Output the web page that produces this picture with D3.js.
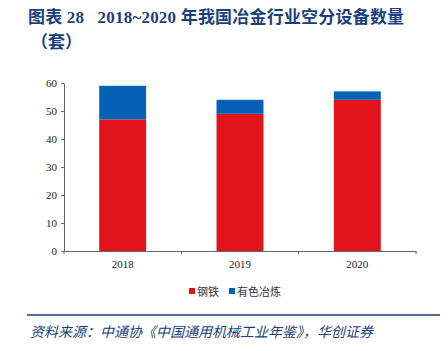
<!DOCTYPE html>
<html>
<head>
<meta charset="utf-8">
<script src="https://cdn.jsdelivr.net/npm/d3@7"></script>
<style>
  body { margin: 0; background: #fff; }
  svg { display: block; }
</style>
</head>
<body>
<svg id="chart" width="448" height="351"></svg>
<script>
// chart data
const years = ['2018', '2019', '2020'];
const steel = [47, 49, 54];       // 钢铁
const nonFerrous = [12, 5, 3];    // 有色冶炼
const seriesNames = ['钢铁', '有色冶炼'];
const yTicks = [0, 10, 20, 30, 40, 50, 60];

const colors = ['#e3131c', '#0461b6'];
const navy = '#1c3f7c';

const svg = d3.select('#chart');
const margin = { top: 83, left: 64, right: 32, bottom: 100 };
const width = 448 - margin.left - margin.right;
const height = 351 - margin.top - margin.bottom;

// title
svg.append('text')
    .attr('x', 28)
    .attr('y', 23)
    .attr('fill', navy)
    .style('font-family', '"Liberation Serif", "Noto Sans CJK SC", serif')
    .style('font-weight', 'bold')
    .style('font-size', '17px')
    .style('letter-spacing', '0.2px')
    .text('图表 28\u00a0\u00a0\u00a02018~2020 年我国冶金行业空分设备数量');
svg.append('text')
    .attr('x', 31)
    .attr('y', 48)
    .attr('fill', navy)
    .style('font-family', '"Noto Sans CJK SC", serif')
    .style('font-weight', 'bold')
    .style('font-size', '17px')
    .text('（套）');

const chart = svg.append('g')
    .attr('transform', `translate(${margin.left},${margin.top})`);

const x = d3.scaleBand().domain(years).range([0, width]).paddingInner(0.6).paddingOuter(0.3);
const y = d3.scaleLinear().domain([0, 60]).range([height, 0]);

// stack the two series
const rows = years.map((yr, i) => ({ year: yr, '钢铁': steel[i], '有色冶炼': nonFerrous[i] }));
const stacked = d3.stack().keys(seriesNames)(rows);

chart.selectAll('.layer')
    .data(stacked)
    .enter()
    .append('g')
    .attr('fill', (d, i) => colors[i])
    .selectAll('rect')
    .data(d => d)
    .enter()
    .append('rect')
    .attr('x', d => x(d.data.year))
    .attr('y', d => y(d[1]))
    .attr('width', x.bandwidth())
    .attr('height', d => y(d[0]) - y(d[1]));

// y axis
const yAxisG = chart.append('g')
    .call(d3.axisLeft(y).tickValues(yTicks).tickSize(3).tickSizeOuter(0).tickPadding(4));

// x axis with ticks at category boundaries
const xAxisG = chart.append('g')
    .attr('transform', `translate(0,${height})`)
    .call(d3.axisBottom(x).tickSize(0).tickPadding(9));
const step = x.step();
xAxisG.selectAll('.edge')
    .data(d3.range(years.length + 1))
    .enter()
    .append('line')
    .attr('x1', i => i * step)
    .attr('x2', i => i * step)
    .attr('y1', 0)
    .attr('y2', 3)
    .attr('stroke', '#666');

[yAxisG, xAxisG].forEach(g => {
    g.selectAll('.domain, line').attr('stroke', '#666');
    g.selectAll('.tick text')
        .attr('fill', '#222')
        .style('font-family', '"Liberation Serif", serif')
        .style('font-size', '11px');
});

// legend
const legend = svg.append('g').attr('transform', 'translate(189,284)');
const legendX = [0, 40];
seriesNames.forEach((name, i) => {
    legend.append('rect')
        .attr('x', legendX[i])
        .attr('y', 4)
        .attr('width', 6)
        .attr('height', 6)
        .attr('fill', colors[i]);
    legend.append('text')
        .attr('x', legendX[i] + 8)
        .attr('y', 11.5)
        .attr('fill', '#333')
        .style('font-family', '"Noto Sans CJK SC", sans-serif')
        .style('font-size', '11px')
        .text(name);
});

// footer
svg.append('line')
    .attr('x1', 27).attr('x2', 440)
    .attr('y1', 315).attr('y2', 315)
    .attr('stroke', navy)
    .attr('stroke-width', 1.5);
svg.append('text')
    .attr('x', 30)
    .attr('y', 337)
    .attr('fill', navy)
    .style('font-family', '"Noto Sans CJK SC", sans-serif')
    .style('font-style', 'italic')
    .style('font-size', '14px')
    .text('资料来源：中通协《中国通用机械工业年鉴》，华创证券');
</script>
</body>
</html>
